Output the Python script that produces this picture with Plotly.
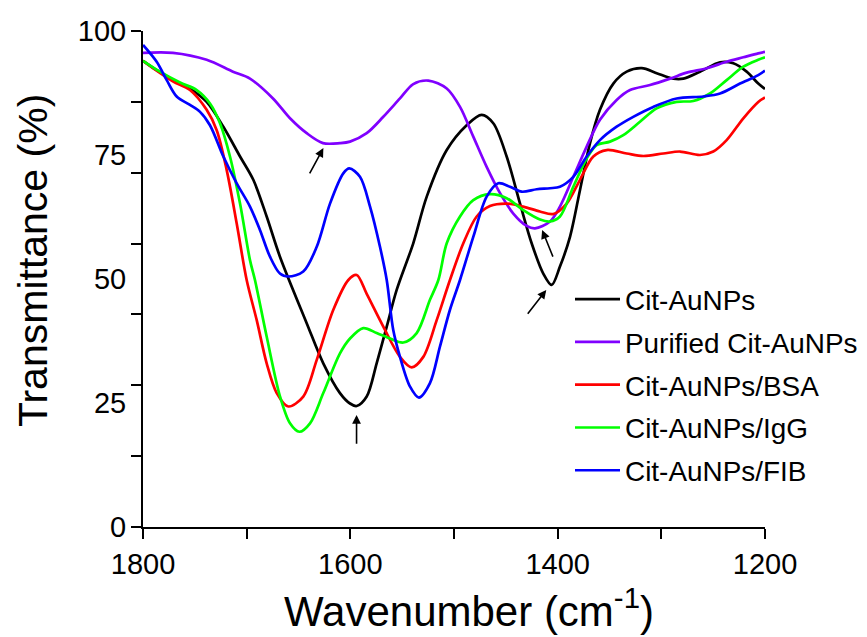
import plotly.graph_objects as go

# ---- data ----
cit_x = [1800, 1786.8, 1770.8, 1754.7, 1738.6, 1722.5, 1706.4, 1693.6, 1680.7, 1667.9, 1642.1,
         1626.1, 1610.0, 1600.3, 1593.9, 1584.2, 1574.6, 1564.9, 1555.3, 1539.3, 1526.3, 1507.0, 1487.8,
         1473.3, 1462.1, 1449.2, 1436.3, 1425.1, 1413.9, 1405.8, 1397.8, 1388.1, 1378.5, 1368.8, 1359.2,
         1346.3, 1333.4, 1318.9, 1304.5, 1288.5, 1278.8, 1262.7, 1243.4, 1230.6, 1217.7, 1206.5, 1200]
cit_y = [94.0, 92.1, 90.1, 88.4, 85.7, 80.7, 74.7, 70.0, 62.6, 54.5, 41.1,
         33.0, 27.0, 24.9, 24.4, 26.3, 33.0, 40.4, 47.8, 57.2, 66.6, 76.0, 81.0,
         83.1, 81.4, 74.7, 65.2, 57.2, 51.1, 48.8, 52.5, 58.5, 67.9, 77.4, 84.1,
         89.4, 91.8, 92.5, 91.5, 90.4, 90.4, 91.8, 93.7, 93.5, 91.8, 89.4, 88.3]

pur_x = [1800, 1771.1, 1738.6, 1713.2, 1696.8, 1674.6, 1658.2, 1642.1, 1626.4, 1610.0, 1600.3, 1584.2,
         1568.2, 1552.1, 1539.3, 1524.8, 1507.0, 1494.2, 1481.4, 1468.5, 1455.6, 1442.8, 1429.9, 1421.9,
         1407.4, 1397.8, 1384.9, 1372.0, 1359.2, 1343.1, 1330.2, 1310.9, 1291.6, 1275.5, 1256.2, 1237.0,
         1220.9, 1206.5, 1200]
pur_y = [95.6, 95.6, 94.2, 91.8, 90.4, 86.4, 82.4, 79.4, 77.4, 77.4, 77.7, 79.4,
         82.7, 86.4, 89.3, 90.0, 88.4, 84.7, 78.7, 72.6, 67.3, 63.2, 60.7, 60.2,
         61.6, 64.6, 70.6, 76.7, 82.1, 86.1, 88.1, 89.1, 90.4, 91.6, 92.5, 93.8,
         94.7, 95.5, 95.8]

bsa_x = [1800, 1786.8, 1770.8, 1754.7, 1738.6, 1728.9, 1719.3, 1709.6, 1700.0, 1690.3, 1680.7, 1671.0,
         1659.8, 1645.4, 1632.4, 1616.4, 1601.9, 1593.9, 1584.2, 1568.2, 1552.1, 1540.8, 1529.6, 1516.7,
         1503.9, 1491.0, 1478.1, 1465.3, 1449.2, 1433.2, 1417.1, 1404.2, 1391.3, 1378.5, 1365.6, 1352.7,
         1333.4, 1317.4, 1298.1, 1282.0, 1262.7, 1249.9, 1237.0, 1220.9, 1206.5, 1200]
bsa_y = [94.0, 92.0, 89.8, 88.1, 84.1, 80.0, 72.0, 61.2, 49.8, 41.7, 33.0, 27.0,
         24.3, 26.3, 33.7, 43.8, 49.8, 50.8, 47.0, 40.4, 34.3, 32.2, 34.3, 41.7,
         49.8, 57.2, 62.6, 64.7, 65.2, 64.6, 63.6, 63.1, 65.2, 70.0, 74.7, 76.0,
         75.3, 74.8, 75.3, 75.7, 75.0, 75.7, 78.0, 82.4, 85.7, 86.6]

igg_x = [1800, 1783.6, 1764.3, 1748.2, 1735.4, 1725.7, 1716.1, 1706.4, 1696.8, 1692.0, 1680.7, 1667.8,
         1658.2, 1649.2, 1638.9, 1626.1, 1610.0, 1600.3, 1587.5, 1574.6, 1561.7, 1548.9, 1536.0, 1523.2,
         1515.1, 1507.0, 1494.2, 1481.4, 1465.3, 1449.2, 1433.2, 1417.0, 1407.4, 1397.8, 1384.9, 1372.0,
         1362.4, 1349.5, 1336.7, 1320.6, 1304.5, 1285.2, 1269.2, 1253.1, 1237.0, 1220.9, 1206.5, 1200]
igg_y = [94.0, 91.8, 89.6, 88.1, 85.4, 81.4, 74.7, 65.2, 53.8, 49.8, 38.4, 26.3,
         20.9, 19.2, 20.9, 27.0, 35.0, 38.0, 40.1, 39.1, 38.0, 37.2, 39.1, 45.8,
         49.8, 57.2, 62.6, 65.9, 67.1, 66.3, 63.9, 62.0, 61.6, 62.6, 68.6, 74.3,
         77.0, 77.7, 79.0, 81.7, 84.4, 85.7, 85.9, 87.4, 90.1, 92.8, 94.2, 94.7]

fib_x = [1800, 1786.8, 1777.1, 1767.5, 1754.7, 1745.0, 1735.4, 1722.5, 1709.6, 1696.8, 1687.2, 1677.5,
         1667.9, 1659.8, 1645.4, 1632.4, 1619.6, 1606.8, 1601.0, 1590.7, 1581.0, 1571.4, 1564.9, 1558.6,
         1552.1, 1542.4, 1533.8, 1523.2, 1513.5, 1503.9, 1494.2, 1481.4, 1468.5, 1457.3, 1446.0, 1434.7,
         1420.2, 1407.4, 1397.8, 1384.9, 1372.0, 1359.2, 1343.1, 1327.1, 1307.8, 1285.2, 1259.5, 1243.4,
         1224.1, 1206.5, 1200]
fib_y = [97.2, 93.8, 90.1, 86.8, 85.1, 83.7, 81.0, 74.7, 69.3, 64.6, 59.9, 54.5,
         51.1, 50.5, 51.5, 56.5, 65.2, 71.3, 72.3, 70.6, 64.6, 56.5, 49.8, 39.7,
         34.3, 28.3, 26.1, 29.0, 36.4, 43.8, 49.8, 58.5, 66.6, 69.3, 68.6, 67.6,
         68.1, 68.3, 68.6, 70.6, 74.7, 78.0, 80.7, 82.7, 84.7, 86.4, 86.8, 87.4,
         89.4, 91.1, 92.0]

series_names = ["Cit-AuNPs", "Purified Cit-AuNPs", "Cit-AuNPs/BSA", "Cit-AuNPs/IgG", "Cit-AuNPs/FIB"]
series_colors = ["#000000", "#8000ff", "#ff0000", "#00ff00", "#0000ff"]

# arrows: (head x, head y, tail x, tail y)
arrow_head_x = [1626, 1594, 1415, 1411]
arrow_head_y = [76.4, 22.6, 59.9, 47.8]
arrow_tail_x = [1640, 1594, 1404, 1430]
arrow_tail_y = [71.0, 16.5, 54.2, 42.7]

x_label_vals = [1800, 1600, 1400, 1200]
x_minor_vals = [1700, 1500, 1300]
y_tick_marks = [0, 14.29, 28.57, 42.86, 57.14, 71.43, 85.71, 100]
y_label_vals = [0, 25, 50, 75, 100]
y_label_text = ["0", "25", "50", "75", "100"]

FONT = "Arial, Liberation Sans, sans-serif"

fig = go.Figure()
data = [(cit_x, cit_y), (pur_x, pur_y), (bsa_x, bsa_y), (igg_x, igg_y), (fib_x, fib_y)]
for (xs, ys), name, col in zip(data, series_names, series_colors):
    fig.add_trace(go.Scatter(x=xs, y=ys, mode="lines", name=name, legendgroup=name,
                             line=dict(color=col, width=2.7, shape="spline", smoothing=0.9)))

for hx, hy, tx, ty in zip(arrow_head_x, arrow_head_y, arrow_tail_x, arrow_tail_y):
    fig.add_annotation(x=hx, y=hy, ax=tx, ay=ty, xref="x", yref="y", axref="x", ayref="y",
                       text="", showarrow=True, arrowhead=2, arrowsize=1.1, arrowwidth=1.6,
                       arrowcolor="black")

# axis titles (page body has an 8px margin, figure drawn 8px in from the top-left corner)
fig.add_annotation(text="Transmittance (%)", xref="paper", yref="paper", x=-0.177, y=0.538,
                   xanchor="center", yanchor="middle",
                   textangle=-90, showarrow=False, font=dict(family=FONT, size=41, color="black"))
fig.add_annotation(text="Wavenumber (cm<sup>-1</sup>)", xref="paper", yref="paper", x=0.524, y=-0.163,
                   xanchor="center", yanchor="middle",
                   showarrow=False, font=dict(family=FONT, size=42, color="black"))

fig.update_layout(
    width=859, height=629,
    margin=dict(l=135, r=102, t=23, b=110, autoexpand=False),
    plot_bgcolor="white", paper_bgcolor="white",
    font=dict(family=FONT, color="black"),
    showlegend=True,
    legend=dict(x=0.6865, y=0.509, xanchor="left", yanchor="top", bgcolor="rgba(0,0,0,0)",
                font=dict(family=FONT, size=27.9, color="black"), tracegroupgap=3.5,
                itemwidth=45),
    xaxis=dict(range=[1800, 1200], tickvals=x_label_vals,
               ticks="outside", ticklen=10, tickwidth=2, tickcolor="black",
               minor=dict(tickvals=x_minor_vals, ticks="outside", ticklen=10, tickwidth=2,
                          tickcolor="black", showgrid=False),
               showline=True, linecolor="black", linewidth=2, showgrid=False, zeroline=False,
               tickfont=dict(family=FONT, size=29, color="black")),
    yaxis=dict(range=[0, 100], tickvals=y_tick_marks, showticklabels=False,
               ticks="outside", ticklen=10, tickwidth=2, tickcolor="black",
               showline=True, linecolor="black", linewidth=2, showgrid=False, zeroline=False),
    yaxis2=dict(range=[0, 100], overlaying="y", side="left", tickvals=y_label_vals, ticktext=y_label_text,
                ticks="outside", ticklen=10, tickcolor="rgba(0,0,0,0)", showline=False,
                showgrid=False, zeroline=False,
                tickfont=dict(family=FONT, size=29, color="black")),
)
# invisible trace to activate yaxis2
fig.add_trace(go.Scatter(x=[1800], y=[0], yaxis="y2", mode="markers", marker=dict(opacity=0),
                         showlegend=False, hoverinfo="skip"))

fig.write_html("out.html")
